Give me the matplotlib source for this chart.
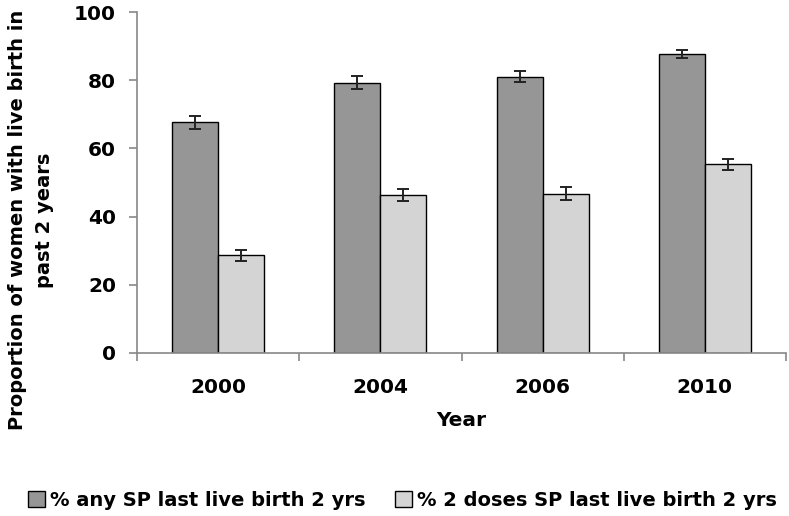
import matplotlib
matplotlib.use("Agg")
import matplotlib.pyplot as plt
import numpy as np

years = ["2000", "2004", "2006", "2010"]
any_sp = [67.6, 79.2, 81.0, 87.7]
any_sp_err = [2.0, 1.9, 1.6, 1.2]
two_doses = [28.6, 46.3, 46.7, 55.3]
two_doses_err = [1.6, 1.7, 1.9, 1.6]

plt.rcParams['font.family'] = ['DejaVu Sans']
plt.rcParams['font.weight'] = 'bold'

W, H = 789, 516
fig = plt.figure(figsize=(W/100, H/100), dpi=100)
ax = fig.add_axes([137/W, 1-353/H, (786-137)/W, (353-12)/H])

x = np.arange(len(years))
w = 0.284
dark = '#969696'
light = '#d4d4d4'
ekw = dict(elinewidth=1.4, capthick=1.4, ecolor='#222222')
ax.bar(x - w/2, any_sp, w, color=dark, edgecolor='black', linewidth=1.0,
       yerr=any_sp_err, capsize=4.5, error_kw=ekw,
       label='% any SP last live birth 2 yrs', zorder=2)
ax.bar(x + w/2, two_doses, w, color=light, edgecolor='black', linewidth=1.0,
       yerr=two_doses_err, capsize=4.5, error_kw=ekw,
       label='% 2 doses SP last live birth 2 yrs', zorder=2)

ax.set_xlim(-0.5, 3.5)
ax.set_ylim(0, 100)
ax.set_yticks([0, 20, 40, 60, 80, 100])
ax.set_xticks(x)
ax.set_xticklabels(years)
ax.set_xticks(np.arange(-0.5, 4.0, 1.0), minor=True)
ax.tick_params(axis='x', which='major', length=0, pad=18, labelsize=14.5)
ax.tick_params(axis='x', which='minor', length=6, color='#888888', width=1.2)
ax.tick_params(axis='y', length=6, color='#888888', width=1.2, labelsize=14.5, pad=9)

for s in ['top', 'right']:
    ax.spines[s].set_visible(False)
for s in ['left', 'bottom']:
    ax.spines[s].set_color('#888888')
    ax.spines[s].set_linewidth(1.2)

ax.set_xlabel('Year', fontsize=14.5, fontweight='bold')
ax.xaxis.set_label_coords(0.5, -(421-353)/341)
ax.xaxis.label.set_va('center')

fig.text(31/W, 1-220/H, 'Proportion of women with live birth in\npast 2 years',
         rotation=90, ha='center', va='center', fontsize=14, fontweight='bold',
         linespacing=1.5, multialignment='center')

fig.legend(loc='center', bbox_to_anchor=(0.51, 1-500/H), ncol=2, frameon=False,
           fontsize=14, handlelength=0.9, handleheight=0.9, handletextpad=0.25,
           columnspacing=1.5, borderaxespad=0, borderpad=0)

fig.savefig('out.png', dpi=100)
